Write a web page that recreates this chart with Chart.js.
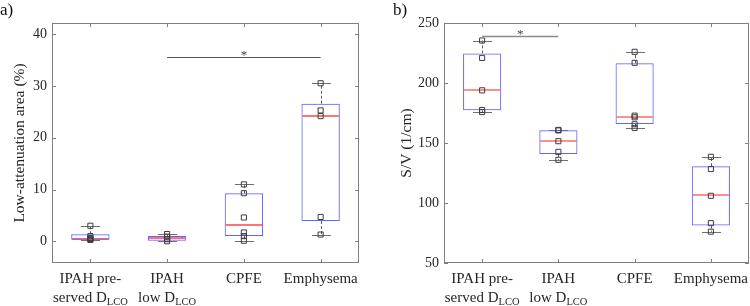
<!DOCTYPE html>
<html>
<head>
<meta charset="utf-8">
<script src="https://cdn.jsdelivr.net/npm/chart.js@4.4.1/dist/chart.umd.min.js"></script>
<style>
  body { margin: 0; background: #fff; }
  #wrap { position: relative; width: 750px; height: 306px; }
  canvas { position: absolute; top: 0; }
  #ca { left: 0; }
  #cb { left: 375px; }
</style>
</head>
<body>
<div id="wrap">
  <canvas id="ca" width="375" height="306"></canvas>
  <canvas id="cb" width="375" height="306"></canvas>
</div>
<script>
// ── Groupes ───────────────────────────────────────────────────────────────
const GROUPS = ['IPAH pre-served', 'IPAH low', 'CPFE', 'Emphysema'];
const X_LINE1 = ['IPAH pre-', 'IPAH', 'CPFE', 'Emphysema'];
const X_LINE2 = ['served D', 'low D', '', ''];
const X_SUB = ['LCO', 'LCO', '', ''];

// ── a) Low-attenuation area (%) ───────────────────────────────────────────
const LAA_MIN = [0.25, 0.0, 0.1, 1.3];
const LAA_Q1 = [0.3, 0.1, 1.0, 3.9];
const LAA_MED = [0.45, 0.58, 3.15, 24.2];
const LAA_Q3 = [1.35, 1.0, 9.3, 26.6];
const LAA_MAX = [3.0, 1.4, 11.0, 30.55];
const LAA_POINTS = [
  [3.0, 1.0, 0.64, 0.45, 0.25],
  [1.4, 0.9, 0.4, 0.0],
  [11.0, 9.3, 4.6, 1.7, 1.0, 0.1],
  [30.55, 25.3, 24.2, 4.7, 1.3],
];
const LAA_TICKS = [0, 10, 20, 30, 40];
const LAA_SIG = [1, 3, 35.6]; // de, à, hauteur

// ── b) S/V (1/cm) ─────────────────────────────────────────────────────────
const SV_MIN = [175.8, 136.0, 162.6, 76.1];
const SV_Q1 = [177.2, 140.9, 165.9, 81.2];
const SV_MED = [193.9, 151.5, 172.0, 106.3];
const SV_Q3 = [224.6, 160.6, 216.5, 130.7];
const SV_MAX = [235.4, 160.9, 226.0, 138.5];
const SV_POINTS = [
  [235.4, 220.9, 193.9, 177.5, 175.8],
  [160.9, 160.5, 151.5, 142.6, 136.0],
  [226.0, 216.8, 172.8, 171.4, 165.6, 162.6],
  [138.5, 128.3, 106.0, 83.2, 76.1],
];
const SV_TICKS = [50, 100, 150, 200, 250];
const SV_SIG = [0, 1, 239.2];

const SERIF = '"Liberation Serif", "Times New Roman", serif';
const AXIS = '#808080';
const TEXT = '#262626';

// Plugin : moustaches, médianes, cadre, ticks internes, labels x, étoile
const boxDecor = {
  id: 'boxDecor',
  beforeDatasetsDraw(chart, args, o) {
    const { ctx, scales: { x, y } } = chart;
    const unit = x.getPixelForValue(1) - x.getPixelForValue(0);
    ctx.save();
    ctx.lineWidth = 1;
    o.max.forEach((mx, i) => {
      const cx = Math.round(x.getPixelForValue(i)) + 0.5;
      // moustaches (pointillés)
      ctx.strokeStyle = '#5a5a5a';
      ctx.setLineDash([3, 2]);
      ctx.beginPath();
      ctx.moveTo(cx, y.getPixelForValue(o.q3[i]));
      ctx.lineTo(cx, y.getPixelForValue(mx));
      ctx.moveTo(cx, y.getPixelForValue(o.q1[i]));
      ctx.lineTo(cx, y.getPixelForValue(o.min[i]));
      ctx.stroke();
      ctx.setLineDash([]);
      // caps
      ctx.strokeStyle = '#707070';
      ctx.beginPath();
      [mx, o.min[i]].forEach(v => {
        const py = Math.round(y.getPixelForValue(v)) + 0.5;
        ctx.moveTo(cx - unit * 0.125, py);
        ctx.lineTo(cx + unit * 0.125, py);
      });
      ctx.stroke();
    });
    // médianes
    ctx.lineWidth = 1.6;
    ctx.strokeStyle = o.medColor;
    o.med.forEach((m, i) => {
      const cx = x.getPixelForValue(i);
      const my = Math.round(y.getPixelForValue(m));
      ctx.beginPath();
      ctx.moveTo(cx - unit * 0.25 + 1, my);
      ctx.lineTo(cx + unit * 0.25 - 1, my);
      ctx.stroke();
    });
    ctx.restore();
  },
  afterDraw(chart, args, o) {
    const { ctx, chartArea: a, scales: { x, y } } = chart;
    ctx.save();
    // cadre
    ctx.strokeStyle = AXIS;
    ctx.lineWidth = 1;
    ctx.strokeRect(a.left + 0.5, a.top + 0.5, a.right - a.left - 1, a.bottom - a.top - 1);
    // ticks internes
    ctx.beginPath();
    o.ticks.forEach(t => {
      const py = Math.round(y.getPixelForValue(t)) + 0.5;
      ctx.moveTo(a.left, py); ctx.lineTo(a.left + 4, py);
      ctx.moveTo(a.right, py); ctx.lineTo(a.right - 4, py);
    });
    GROUPS.forEach((g, i) => {
      const px = Math.round(x.getPixelForValue(i)) + 0.5;
      ctx.moveTo(px, a.bottom); ctx.lineTo(px, a.bottom - 4);
      ctx.moveTo(px, a.top); ctx.lineTo(px, a.top + 4);
    });
    ctx.stroke();

    // labels x
    ctx.fillStyle = TEXT;
    ctx.textBaseline = 'alphabetic';
    GROUPS.forEach((g, i) => {
      const cx = x.getPixelForValue(i);
      ctx.font = '15px ' + SERIF;
      ctx.textAlign = 'center';
      ctx.fillText(X_LINE1[i], cx, 283);
      if (X_LINE2[i]) {
        const w1 = ctx.measureText(X_LINE2[i]).width;
        ctx.font = '10.5px ' + SERIF;
        const w2 = ctx.measureText(X_SUB[i]).width;
        const start = cx - (w1 + w2) / 2;
        ctx.textAlign = 'left';
        ctx.font = '15px ' + SERIF;
        ctx.fillText(X_LINE2[i], start, 302);
        ctx.font = '10.5px ' + SERIF;
        ctx.fillText(X_SUB[i], start + w1, 305);
      }
    });

    // barre de significativité
    const [s0, s1, sy] = o.sig;
    const x0 = x.getPixelForValue(s0), x1 = x.getPixelForValue(s1);
    const py = Math.round(y.getPixelForValue(sy)) + 0.5;
    ctx.strokeStyle = o.sigColor;
    ctx.lineWidth = o.sigWidth;
    ctx.beginPath();
    ctx.moveTo(x0, py); ctx.lineTo(x1, py);
    ctx.stroke();
    ctx.fillStyle = '#444';
    ctx.font = '13px ' + SERIF;
    ctx.textAlign = 'center';
    ctx.fillText('*', (x0 + x1) / 2, py + 1);

    // étiquette du panneau
    ctx.fillStyle = '#111';
    ctx.font = '17px ' + SERIF;
    ctx.textAlign = 'left';
    ctx.fillText(o.panel, o.panelX, 15);
    ctx.restore();
  },
};

function makeChart(canvas, cfg) {
  return new Chart(canvas, {
    type: 'bar',
    plugins: [boxDecor],
    data: {
      labels: GROUPS,
      datasets: [
        {
          type: 'bar',
          data: cfg.q1.map((v, i) => [v, cfg.q3[i]]),
          backgroundColor: 'rgba(0,0,0,0)',
          borderColor: '#6262ff',
          borderWidth: 1,
          borderSkipped: false,
          categoryPercentage: 1,
          barPercentage: 0.5,
          order: 2,
        },
        {
          type: 'line',
          data: cfg.points.flatMap((arr, i) => arr.map(v => ({ x: GROUPS[i], y: v }))),
          showLine: false,
          borderWidth: 0,
          pointStyle: 'rect',
          pointRadius: 3.6,
          pointBorderWidth: 1,
          pointBorderColor: '#3c3c3c',
          pointBackgroundColor: 'rgba(0,0,0,0)',
          order: 1,
        },
      ],
    },
    options: {
      responsive: false,
      animation: false,
      layout: { autoPadding: false, padding: { top: 23, right: cfg.padRight, left: 0, bottom: 0 } },
      plugins: {
        legend: { display: false },
        tooltip: { enabled: false },
        boxDecor: {
          min: cfg.min, q1: cfg.q1, med: cfg.med, q3: cfg.q3, max: cfg.max,
          ticks: cfg.ticks, sig: cfg.sig, sigColor: cfg.sigColor, sigWidth: cfg.sigWidth,
          medColor: cfg.medColor, panel: cfg.panel, panelX: cfg.panelX,
        },
      },
      scales: {
        x: {
          type: 'category',
          offset: true,
          grid: { display: false, drawTicks: false },
          border: { display: false },
          ticks: { display: false },
          afterFit: s => { s.height = 43; },
        },
        y: {
          type: 'linear',
          min: cfg.yMin,
          max: cfg.yMax,
          grid: { display: false, drawTicks: false },
          border: { display: false },
          afterBuildTicks: s => { s.ticks = cfg.ticks.map(v => ({ value: v })); },
          ticks: {
            padding: 5,
            color: TEXT,
            font: { family: SERIF, size: 14 },
          },
          title: {
            display: true,
            text: cfg.title,
            color: TEXT,
            font: { family: SERIF, size: 15.5 },
            padding: { top: cfg.titlePad, bottom: 0 },
          },
          afterFit: s => { s.width = cfg.yWidth; },
        },
      },
    },
  });
}

makeChart(document.getElementById('ca'), {
  min: LAA_MIN, q1: LAA_Q1, med: LAA_MED, q3: LAA_Q3, max: LAA_MAX,
  points: LAA_POINTS, ticks: LAA_TICKS, sig: LAA_SIG,
  sigColor: '#555', sigWidth: 1, medColor: '#ff4545',
  yMin: -4.2, yMax: 42.2, yWidth: 52, padRight: 16,
  title: 'Low-attenuation area (%)', titlePad: 11,
  panel: 'a)', panelX: 0,
});

makeChart(document.getElementById('cb'), {
  min: SV_MIN, q1: SV_Q1, med: SV_MED, q3: SV_Q3, max: SV_MAX,
  points: SV_POINTS, ticks: SV_TICKS, sig: SV_SIG,
  sigColor: '#8a8a8a', sigWidth: 1.6, medColor: '#ff6a6a',
  yMin: 50, yMax: 250, yWidth: 69, padRight: 1,
  title: 'S/V (1/cm)', titlePad: 23,
  panel: 'b)', panelX: 18,
});
</script>
</body>
</html>
